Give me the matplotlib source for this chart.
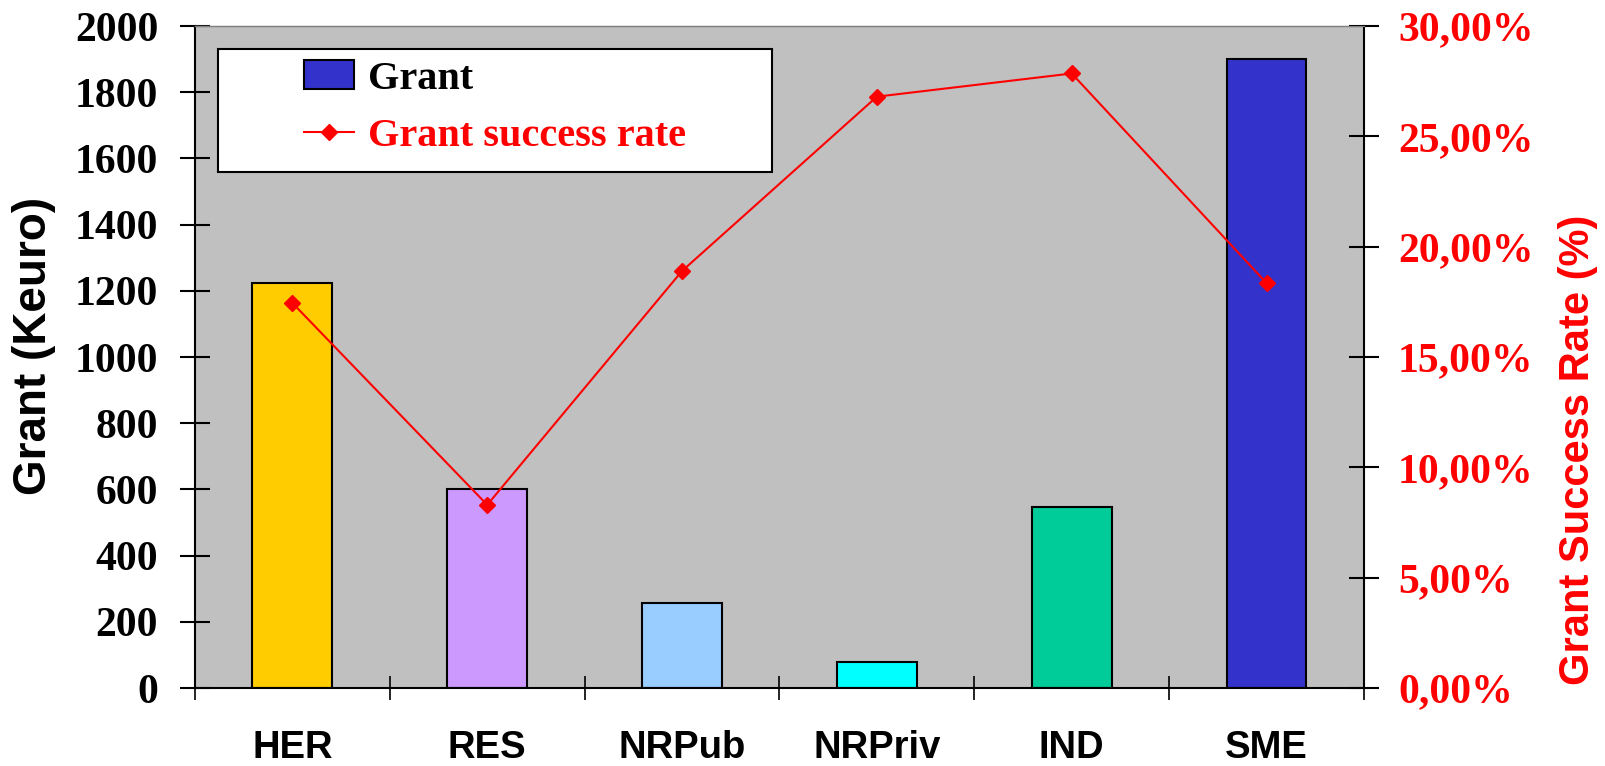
import matplotlib
matplotlib.use("Agg")
from matplotlib import pyplot as plt
from matplotlib.patches import Patch, Rectangle
from matplotlib.lines import Line2D
from matplotlib.ticker import FuncFormatter, FixedLocator

categories = ['HER', 'RES', 'NRPub', 'NRPriv', 'IND', 'SME']
grant = [1225, 600, 258, 78, 548, 1900]
success_rate = [17.45, 8.3, 18.9, 26.8, 27.85, 18.35]
bar_colors = ['#FFCC00', '#CC99FF', '#99CCFF', '#00FFFF', '#00CC99', '#3333CC']

SERIF = 'Liberation Serif'
SANS = 'Liberation Sans'
RED = '#FF0000'
TICK = 21

fig = plt.figure(figsize=(16.06, 7.66), dpi=100)
ax = fig.add_axes([0.1214, 0.1018, 0.7279, 0.8642])
ax.set_facecolor('#C0C0C0')

x = range(len(categories))
ax.bar(x, grant, width=0.41, color=bar_colors, edgecolor='black', linewidth=1.5, zorder=2)
ax.set_xlim(-0.5, len(categories) - 0.5)
ax.set_ylim(0, 2000)
ax.set_yticks(range(0, 2001, 200))

# category labels centred, ticks on the boundaries
ax.set_xticks(list(x))
ax.set_xticklabels(categories, fontfamily=SANS, fontweight='bold', fontsize=27.5)
ax.tick_params(axis='x', which='major', length=0, pad=30)
ax.xaxis.set_minor_locator(FixedLocator([i + 0.5 for i in range(-1, len(categories))]))
ax.tick_params(axis='x', which='minor', direction='inout', length=17, width=1.2)

ax.tick_params(axis='y', direction='inout', length=TICK, width=1.5, pad=16)
for lab in ax.get_yticklabels():
    lab.set_fontfamily(SERIF)
    lab.set_fontweight('bold')
    lab.set_fontsize(30)
ax.set_ylabel('Grant (Keuro)', fontfamily=SANS, fontweight='bold', fontsize=33)
ax.yaxis.set_label_coords(-0.1186, 0.517)

for side in ['left', 'bottom']:
    ax.spines[side].set_linewidth(1.5)
ax.spines['top'].set_color('#808080')
ax.spines['top'].set_linewidth(1)
ax.spines['right'].set_visible(False)

ax2 = ax.twinx()
ax2.plot(x, success_rate, '-', color=RED, linewidth=1.5, marker='D', markersize=8,
         zorder=3)
ax2.set_ylim(0, 30)
ax2.set_yticks(range(0, 31, 5))
ax2.yaxis.set_major_formatter(FuncFormatter(lambda v, p: f'{v:.2f}'.replace('.', ',') + '%'))
ax2.tick_params(axis='y', direction='inout', length=TICK, width=1.5, pad=14, colors='black')
for lab in ax2.get_yticklabels():
    lab.set_fontfamily(SERIF)
    lab.set_fontweight('bold')
    lab.set_fontsize(30)
    lab.set_color(RED)
ax2.set_ylabel('Grant Success Rate (%)', fontfamily=SANS, fontweight='bold', fontsize=30,
               color=RED)
ax2.yaxis.set_label_coords(1.166, 0.36)
ax2.spines['right'].set_linewidth(1.5)
ax2.spines['top'].set_color('#808080')
for side in ['left', 'bottom']:
    ax2.spines[side].set_visible(False)

# legend box
ax2.add_patch(Rectangle((0.0197, 0.7791), 0.474, 0.186, transform=ax2.transAxes,
                        facecolor='white', edgecolor='black', linewidth=1.5, zorder=5))
handles = [Patch(facecolor='#3333CC', edgecolor='black', linewidth=1.5),
           Line2D([], [], color=RED, linewidth=1.5, marker='D', markersize=8)]
leg = ax2.legend(handles, ['Grant', 'Grant success rate'], loc='upper left',
                 bbox_to_anchor=(0.0932, 0.948), bbox_transform=ax2.transAxes,
                 frameon=False, borderpad=0, borderaxespad=0, handlelength=1.25,
                 handletextpad=0.35, labelspacing=0.5,
                 prop={'family': SERIF, 'weight': 'bold', 'size': 29})
leg.set_zorder(6)
leg.get_texts()[1].set_color(RED)

fig.savefig('out.png', dpi=100, facecolor='white')
